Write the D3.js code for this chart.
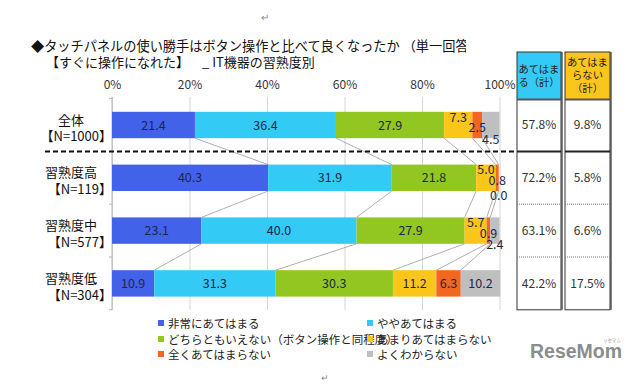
<!DOCTYPE html>
<html>
<head>
<meta charset="utf-8">
<script src="https://cdn.jsdelivr.net/npm/d3@7"></script>
<style>
  body { margin: 0; background: #fff; }
  svg { display: block; font-family: "Noto Sans CJK JP", "Noto Sans", sans-serif; }
</style>
</head>
<body>
<svg id="chart" width="640" height="384"></svg>
<script>
const categories = ["全体", "習熟度高", "習熟度中", "習熟度低"];
const sampleSizes = ["【N=1000】", "【N=119】", "【N=577】", "【N=304】"];
const seriesNames = ["非常にあてはまる", "ややあてはまる", "どちらともいえない（ボタン操作と同程度）",
                     "あまりあてはまらない", "全くあてはまらない", "よくわからない"];
const veryTrue    = [21.4, 40.3, 23.1, 10.9];
const fairlyTrue  = [36.4, 31.9, 40.0, 31.3];
const neutral     = [27.9, 21.8, 27.9, 30.3];
const notReally   = [7.3, 5.0, 5.7, 11.2];
const notAtAll    = [2.5, 0.8, 0.9, 6.3];
const unknown     = [4.5, 0.0, 2.4, 10.2];
const totalTrue   = [57.8, 72.2, 63.1, 42.2];
const totalFalse  = [9.8, 5.8, 6.6, 17.5];
const percentTicks = [0, 20, 40, 60, 80, 100];

const seriesValues = [veryTrue, fairlyTrue, neutral, notReally, notAtAll, unknown];
const colors = ["#4262ea", "#33cbf6", "#92c620", "#fbc61c", "#f3661f", "#bfbfbf"];

const svg = d3.select("#chart");

// title
svg.append("clipPath").attr("id", "titleClip")
  .append("rect").attr("x", 0).attr("y", 0).attr("width", 466).attr("height", 80);
svg.append("text").attr("clip-path", "url(#titleClip)")
  .attr("x", 31).attr("y", 50.5).attr("font-size", 13.2).attr("fill", "#111")
  .text("◆タッチパネルの使い勝手はボタン操作と比べて良くなったか （単一回答）");
svg.append("text").attr("x", 46).attr("y", 67).attr("font-size", 13).attr("fill", "#111")
  .text("【すぐに操作になれた】");
svg.append("text").attr("x", 202).attr("y", 67).attr("font-size", 13).attr("fill", "#111")
  .text("_ IT機器の習熟度別");

const x = d3.scaleLinear().domain([0, 100]).range([112, 499.5]);
const y = d3.scaleBand().domain(categories).range([98.6, 309.8])
  .paddingInner(0.5).paddingOuter(0.25);
const gap = y.step() * y.paddingInner() / 2;
const bounds = categories.map(c => y(c) - gap).concat([y(categories[categories.length - 1]) + y.bandwidth() + gap]);

// top axis with gridlines
const axisG = svg.append("g").attr("transform", "translate(0,97)")
  .call(d3.axisTop(x).tickValues(percentTicks).tickFormat(d => d + "%")
    .tickSize(-(bounds[bounds.length - 1] - 97)).tickPadding(8));
axisG.select(".domain").remove();
axisG.selectAll(".tick line").attr("stroke", "#d4d4d4");
axisG.selectAll(".tick text").attr("font-size", 12).attr("fill", "#333")
  .attr("font-family", "\"Noto Sans CJK JP\", sans-serif");

// left axis line and small ticks
svg.append("line").attr("x1", x(0)).attr("x2", x(0)).attr("y1", 97).attr("y2", bounds[bounds.length - 1])
  .attr("stroke", "#b5b5b5");
svg.selectAll(".ltick").data(bounds).join("line")
  .attr("x1", x(0) - 3).attr("x2", x(0)).attr("y1", d => d).attr("y2", d => d)
  .attr("stroke", "#b5b5b5");

// stacked rows
const rows = categories.map((c, i) => {
  let acc = 0;
  return seriesValues.map((vals, s) => {
    const seg = { cat: c, row: i, s, v: vals[i], x0: acc, x1: acc + vals[i] };
    acc += vals[i];
    return seg;
  });
});

// connector lines between rows
const connectors = [];
for (let i = 0; i < rows.length - 1; i++) {
  for (let s = 0; s < 5; s++) {
    connectors.push({ a: rows[i][s].x1, b: rows[i + 1][s].x1, ya: y(categories[i]) + y.bandwidth(), yb: y(categories[i + 1]) });
  }
}
svg.append("g").selectAll("line").data(connectors).join("line")
  .attr("x1", d => x(d.a)).attr("y1", d => d.ya)
  .attr("x2", d => x(d.b)).attr("y2", d => d.yb)
  .attr("stroke", "#9a9a9a").attr("stroke-width", 0.8);

const segs = rows.flat();
svg.append("g").selectAll("rect").data(segs).join("rect")
  .attr("x", d => x(d.x0)).attr("y", d => y(d.cat))
  .attr("width", d => x(d.x1) - x(d.x0)).attr("height", y.bandwidth())
  .attr("fill", d => colors[d.s]);

// value labels; crowded rows get staggered labels on the small segments
const labelW = v => v.toFixed(1).length * 6.6;
const crowded = rows.map(r => r.some(d => x(d.x1) - x(d.x0) < labelW(d.v)));
const stagger = { 3: -8, 4: 2.5, 5: 14 };
svg.append("g").selectAll("text").data(segs).join("text")
  .attr("x", d => x((d.x0 + d.x1) / 2))
  .attr("y", d => {
    let yy = y(d.cat) + y.bandwidth() / 2;
    if (crowded[d.row] && d.s >= 3) yy += stagger[d.s] + (d.v === 0 ? 4 : 0);
    return yy;
  })
  .attr("dy", "0.36em").attr("text-anchor", "middle")
  .attr("font-size", 12.5).attr("fill", "#1f2744")
  .text(d => d.v.toFixed(1));

// category labels
categories.forEach((c, i) => {
  const cy = y(c) + y.bandwidth() / 2;
  svg.append("text").attr("x", 71).attr("y", cy - 5).attr("dy", "0.36em")
    .attr("text-anchor", "middle").attr("font-size", 13).attr("fill", "#111").text(c);
  svg.append("text").attr("x", 112).attr("y", cy + 11.5).attr("dy", "0.36em")
    .attr("text-anchor", "end").attr("font-size", 13).attr("fill", "#111").text(sampleSizes[i]);
});

// dashed divider
svg.append("line").attr("x1", 45).attr("x2", 515).attr("y1", bounds[1]).attr("y2", bounds[1])
  .attr("stroke", "#111").attr("stroke-width", 2).attr("stroke-dasharray", "5,3");

// side table
const tableCols = [
  { x0: 517, x1: 561, fill: "#33cbf6", head: ["あてはま", "る（計）"], vals: totalTrue },
  { x0: 565, x1: 610, fill: "#fbc61c", head: ["あてはま", "らない", "（計）"], vals: totalFalse }
];
const headTop = 52, headBottom = 99.5;
tableCols.forEach(col => {
  const t = svg.append("g");
  const cx = (col.x0 + col.x1) / 2;
  t.append("rect").attr("x", col.x0).attr("y", headTop).attr("width", col.x1 - col.x0)
    .attr("height", headBottom - headTop).attr("fill", col.fill);
  const n = col.head.length;
  col.head.forEach((h, k) => {
    t.append("text").attr("x", cx).attr("y", (headTop + headBottom) / 2 + (k - (n - 1) / 2) * 13)
      .attr("dy", "0.36em").attr("text-anchor", "middle").attr("font-size", 10.3).attr("fill", "#222").text(h);
  });
  t.append("rect").attr("x", col.x0).attr("y", headTop).attr("width", col.x1 - col.x0)
    .attr("height", bounds[bounds.length - 1] - headTop).attr("fill", "none")
    .attr("stroke", "#333").attr("stroke-width", 1);
  t.append("line").attr("x1", col.x1 + 1).attr("x2", col.x1 + 1).attr("y1", headTop)
    .attr("y2", bounds[bounds.length - 1]).attr("stroke", "#333").attr("stroke-width", 1.2);
  t.append("line").attr("x1", col.x0).attr("x2", col.x1).attr("y1", headBottom).attr("y2", headBottom)
    .attr("stroke", "#555").attr("stroke-width", 2);
  t.append("line").attr("x1", col.x0).attr("x2", col.x1).attr("y1", bounds[1]).attr("y2", bounds[1])
    .attr("stroke", "#222").attr("stroke-width", 2);
  [bounds[2], bounds[3]].forEach(b => {
    t.append("line").attr("x1", col.x0).attr("x2", col.x1).attr("y1", b).attr("y2", b)
      .attr("stroke", "#777").attr("stroke-width", 1).attr("stroke-dasharray", "1,1");
  });
  categories.forEach((c, i) => {
    t.append("text").attr("x", cx).attr("y", y(c) + y.bandwidth() / 2).attr("dy", "0.36em")
      .attr("text-anchor", "middle").attr("font-size", 12).attr("fill", "#333")
      .text(col.vals[i].toFixed(1) + "%");
  });
});

// legend
const legendPos = [[158, 324], [367, 324], [158, 340], [367, 340], [158, 355], [367, 355]];
const lg = svg.append("g").selectAll("g").data(seriesNames).join("g")
  .attr("transform", (d, i) => `translate(${legendPos[i][0]},${legendPos[i][1]})`);
lg.append("rect").attr("x", 0).attr("y", -4).attr("width", 6).attr("height", 6)
  .attr("fill", (d, i) => colors[i]);
lg.append("text").attr("x", 10).attr("y", 0).attr("dy", "0.36em").attr("font-size", 11.5)
  .attr("fill", "#222").text(d => d);

// return marks and logo
svg.append("text").attr("x", 265).attr("y", 21).attr("font-size", 10).attr("fill", "#888")
  .attr("text-anchor", "middle").text("↵");
svg.append("text").attr("x", 325).attr("y", 381).attr("font-size", 9).attr("fill", "#888")
  .attr("text-anchor", "middle").text("↵");
svg.append("text").attr("x", 530).attr("y", 358).attr("font-size", 19.5).attr("font-weight", "bold")
  .attr("font-family", "\"Liberation Sans\", Arial, sans-serif").attr("fill", "#8c8c8c").text("ReseMom");
svg.append("text").attr("x", 612).attr("y", 342).attr("font-size", 4.5).attr("fill", "#999")
  .attr("text-anchor", "middle").text("リセマム");
</script>
</body>
</html>
